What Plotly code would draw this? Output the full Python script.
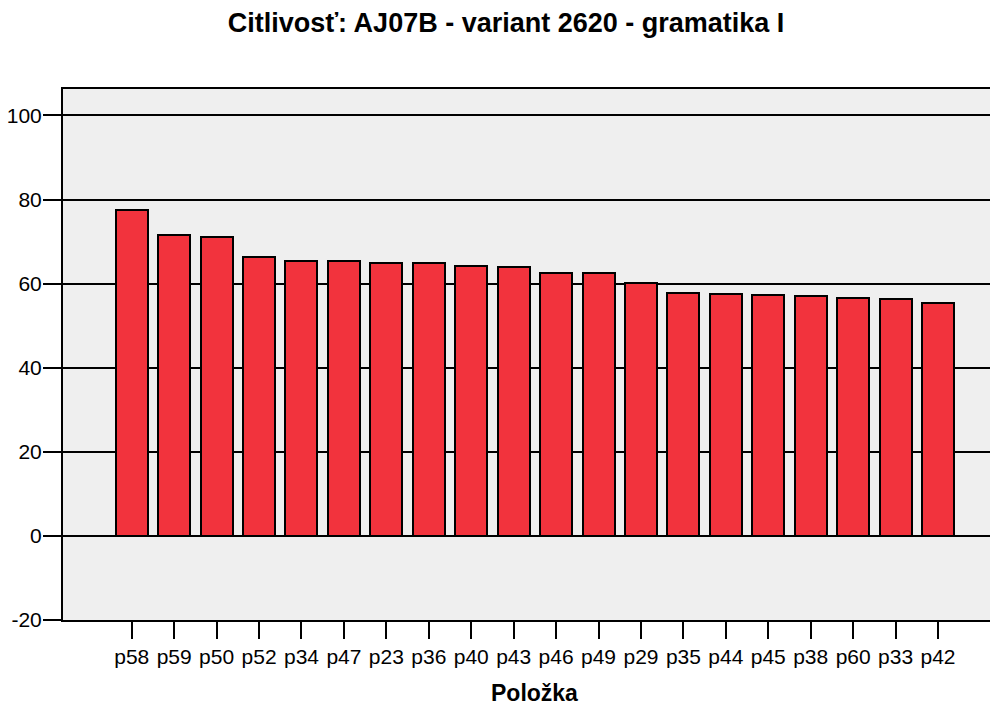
import plotly.graph_objects as go

categories = ["p58", "p59", "p50", "p52", "p34", "p47", "p23", "p36", "p40", "p43",
              "p46", "p49", "p29", "p35", "p44", "p45", "p38", "p60", "p33", "p42"]
values = [77.45, 71.6, 71.1, 66.4, 65.5, 65.3, 64.85, 64.8, 64.1, 63.95,
          62.45, 62.45, 60.2, 57.85, 57.55, 57.3, 57.0, 56.7, 56.4, 55.4]
y_ticks = [-20, 0, 20, 40, 60, 80, 100]
y_tick_labels = ["-20", "0", "20", "40", "60", "80", "100"]

title_text = "Citlivosť: AJ07B - variant 2620 - gramatika I"
x_title = "Položka"

FONT = "Liberation Sans, Arial, sans-serif"

fig = go.Figure()
fig.add_trace(go.Bar(
    x=list(range(len(categories))),
    y=values,
    width=0.754,
    marker=dict(color="#F2333D", line=dict(color="black", width=2)),
    hoverinfo="x+y",
))

fig.update_layout(
    width=990, height=706,
    margin=dict(l=63, r=0, t=89, b=86, autoexpand=False),
    paper_bgcolor="white",
    plot_bgcolor="#EFEFEF",
    showlegend=False,
    bargap=0,
    title=dict(text="<b>" + title_text + "</b>", x=506 / 990, xanchor="center",
               y=1 - 23 / 706, yanchor="middle", yref="container",
               font=dict(family=FONT, size=27, color="black")),
    font=dict(family=FONT, color="black"),
)

fig.update_xaxes(
    range=[-1.62, len(categories) - 1 + 1.225],
    tickmode="array",
    tickvals=list(range(len(categories))),
    ticktext=categories,
    ticks="outside", ticklen=17, tickwidth=2, tickcolor="black",
    tickfont=dict(family=FONT, size=21, color="black"),
    showline=True, linecolor="black", linewidth=2, mirror=True,
    showgrid=False, zeroline=False, automargin=False,
)

fig.update_yaxes(
    range=[-20, 106.3],
    tickmode="array",
    tickvals=y_ticks,
    ticktext=y_tick_labels,
    ticks="outside", ticklen=18, tickwidth=2, tickcolor="black",
    tickfont=dict(family=FONT, size=21, color="black"),
    ticklabelstandoff=-3,
    showline=True, linecolor="black", linewidth=2,
    showgrid=True, gridcolor="black", gridwidth=2,
    zeroline=False, automargin=False,
)

fig.add_annotation(
    text="<b>" + x_title + "</b>",
    x=(len(categories) - 1) / 2, xref="x",
    y=0, yref="paper", yanchor="middle", yshift=-73,
    showarrow=False,
    font=dict(family=FONT, size=23, color="black"),
)

fig.write_html(
    "out.html",
    config={"displayModeBar": False},
    post_script="document.body.style.margin='0';document.body.style.overflow='hidden';",
)
